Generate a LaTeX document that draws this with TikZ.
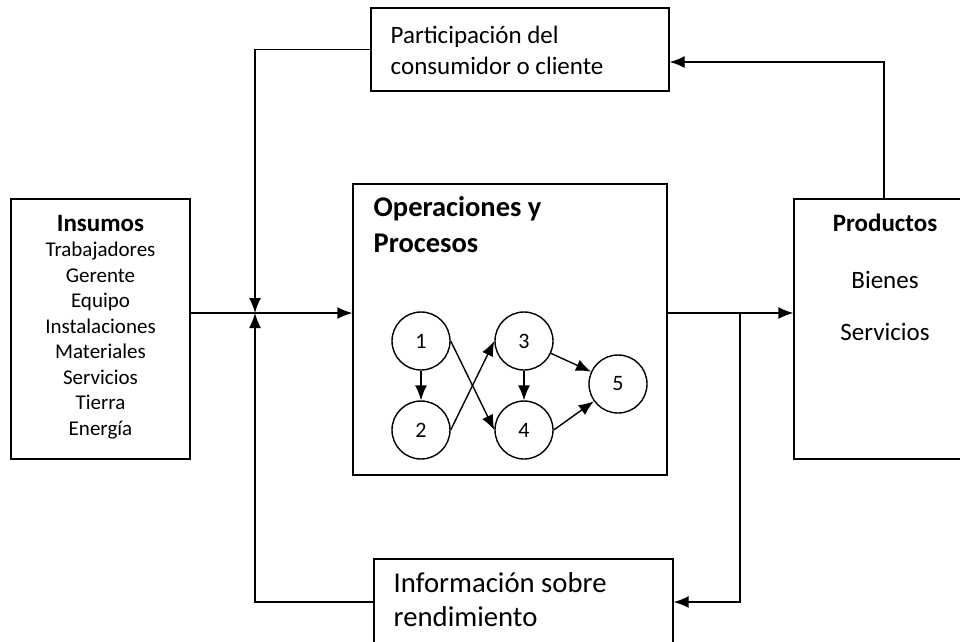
\documentclass[tikz,border=0pt]{standalone}
\usepackage{fontspec}
\setmainfont{Carlito}
\usetikzlibrary{arrows.meta,positioning}

\begin{document}
\begin{tikzpicture}[x=1pt,y=-1pt,->,>={Latex[length=15pt,width=12pt]},
                    line width=1.4pt]

  \tikzstyle{box}=[draw,rectangle,inner sep=0pt,-]
  \tikzstyle{proc}=[draw,circle,minimum size=58pt,inner sep=0pt,-,
                    font=\fontsize{22}{25}\selectfont]
  \tikzstyle{txt}=[inner sep=0pt,align=left]

  \clip (0,0) rectangle (960,641);

  % boxes
  \node[box,minimum width=179pt,minimum height=260pt] (INS)  at (100.5,329) {};
  \node[box,minimum width=314pt,minimum height=291pt] (OPS)  at (510,329.5) {};
  \node[box,minimum width=182pt,minimum height=260pt] (PROD) at (885,329) {};
  \node[box,minimum width=298pt,minimum height=83pt]  (PART) at (520,49.5) {};
  \node[box,minimum width=299pt,minimum height=86pt]  (INFO) at (523.5,602) {};

  % texts
  \node[txt,align=center,font=\fontsize{21}{25.5}\selectfont] (INSt) at (100.5,327)
    {{\bfseries\fontsize{25}{25.5}\selectfont Insumos}\\ Trabajadores\\ Gerente\\ Equipo\\
     Instalaciones\\ Materiales\\ Servicios\\ Tierra\\ Energía};
  \node[txt,anchor=west,font=\bfseries\fontsize{28.5}{36}\selectfont] (OPSt) at (373,225)
    {Operaciones y\\ Procesos};
  \node[txt,font=\bfseries\fontsize{25}{25}\selectfont] (PRODa) at (885,223) {Productos};
  \node[txt,font=\fontsize{25}{25}\selectfont] (PRODb) at (885,280) {Bienes};
  \node[txt,font=\fontsize{25}{25}\selectfont] (PRODc) at (885,332) {Servicios};
  \node[txt,anchor=west,font=\fontsize{25}{31}\selectfont] (PARTt) at (390,50)
    {Participación del\\ consumidor o cliente};
  \node[txt,anchor=west,font=\fontsize{28.7}{34}\selectfont] (INFOt) at (393,600)
    {Información sobre\\ rendimiento};

  % process network
  \node[proc] (N1) at (421,341) {1};
  \node[proc] (N2) at (421,430) {2};
  \node[proc] (N3) at (524,341) {3};
  \node[proc] (N4) at (524,430) {4};
  \node[proc] (N5) at (618,384) {5};

  \draw (N1) -- (N2);
  \draw (N1.east) -- (N4.west);
  \draw (N2.east) -- (N3.west);
  \draw (N3) -- (N4);
  \draw (N3) -- (N5);
  \draw (N4.east) -- (N5);

  % flow lines
  \coordinate (J)  at (255,313);
  \coordinate (BR) at (740,313);
  \coordinate (FB) at (884,62);

  \draw (INS.east |- J) -- (OPS.west |- J);
  \draw (OPS.east |- J) -- (PROD.west |- J);
  \draw (PART.west) -| (J);
  \draw (INFO.west) -| (J);
  \draw (BR) |- (INFO.east);
  \draw (PROD.north -| FB) |- (PART.east |- FB);

\end{tikzpicture}
\end{document}
